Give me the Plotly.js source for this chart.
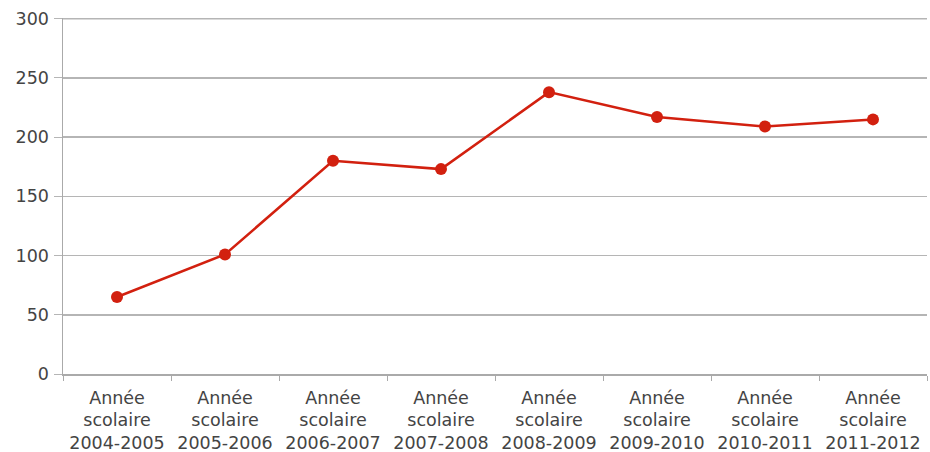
<!DOCTYPE html>
<html>
<head>
<meta charset="utf-8">
<script src="https://cdn.plot.ly/plotly-3.0.1.min.js"></script>
<style>html,body{margin:0;padding:0;background:#fff;}#chart{width:930px;height:452px;}</style>
</head>
<body>
<div id="chart"></div>
<script>
const categories = ["Année<br>scolaire<br>2004-2005","Année<br>scolaire<br>2005-2006","Année<br>scolaire<br>2006-2007","Année<br>scolaire<br>2007-2008","Année<br>scolaire<br>2008-2009","Année<br>scolaire<br>2009-2010","Année<br>scolaire<br>2010-2011","Année<br>scolaire<br>2011-2012"];
const values = [65, 101, 180, 173, 238, 217, 209, 215];
const yTicks = [0, 50, 100, 150, 200, 250, 300];
const yMax = 300;

const trace = {
  x: categories, y: values, type: 'scatter', mode: 'lines+markers',
  line: {color: '#d2200f', width: 2.5},
  marker: {color: '#d2200f', size: 12},
  hoverinfo: 'none'
};
const layout = {
  width: 930, height: 452,
  margin: {l: 63, r: 3, t: 18, b: 78},
  paper_bgcolor: '#fff', plot_bgcolor: '#fff',
  showlegend: false,
  font: {family: 'DejaVu Sans, Verdana, sans-serif', size: 17.5, color: '#444'},
  xaxis: {
    type: 'category', tickson: 'boundaries', ticks: 'outside', ticklen: 5, tickcolor: '#aaa',
    showline: true, linecolor: '#aaa', linewidth: 1.5, showgrid: false,
    range: [-0.5, 7.5], fixedrange: true, ticklabelstandoff: 7
  },
  yaxis: {
    range: [0, 300.6], tickvals: yTicks, ticktext: yTicks.map(String),
    showline: true, linecolor: '#aaa', linewidth: 1.5,
    showgrid: true, gridcolor: '#b5b5b5', gridwidth: 1.5,
    ticks: 'outside', ticklen: 8, tickcolor: '#b5b5b5', zeroline: false,
    fixedrange: true, ticklabelstandoff: 1
  },
  shapes: [{type: 'line', xref: 'paper', yref: 'y', x0: 0, x1: 1, y0: yMax, y1: yMax,
    line: {color: '#b5b5b5', width: 1.5}, layer: 'below'}]
};
Plotly.newPlot('chart', [trace], layout, {displayModeBar: false, staticPlot: true});
</script>
</body>
</html>
